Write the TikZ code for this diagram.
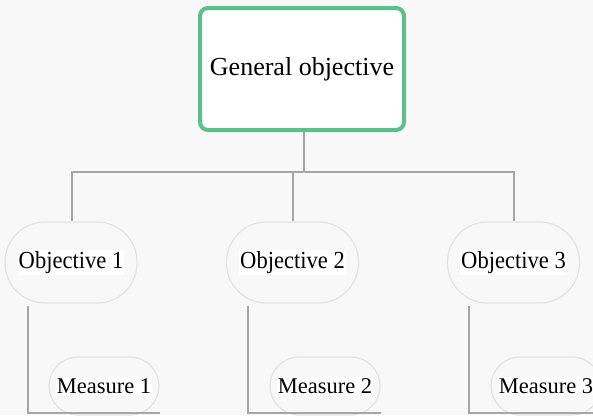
\documentclass[tikz,border=0pt]{standalone}
\usepackage{fontspec}
\setmainfont{Liberation Serif}
\newfontfamily\objfont{Liberation Serif}[FakeStretch=0.92]
\definecolor{bg}{HTML}{F8F8F8}
\definecolor{gbox}{HTML}{5CC08C}
\definecolor{conn}{HTML}{A6A6A6}
\definecolor{pill}{HTML}{E3E3E3}
\begin{document}
\begin{tikzpicture}[x=1pt,y=-1pt,
  topbox/.style={draw=gbox, line width=4pt, rounded corners=8pt, fill=white,
    minimum width=204pt, minimum height=122pt, inner sep=0pt,
    font=\fontsize{26pt}{30pt}\selectfont},
  objpill/.style={draw=pill, line width=1.2pt, fill=bg, rounded corners=40pt,
    minimum width=132pt, minimum height=81pt, inner sep=0pt,
    font=\objfont\fontsize{24.5pt}{28pt}\selectfont},
  measpill/.style={draw=pill, line width=1.2pt, fill=bg, rounded corners=29pt,
    minimum width=110pt, minimum height=58pt, inner sep=0pt,
    font=\fontsize{22.5pt}{26pt}\selectfont},
  link/.style={draw=conn, line width=2pt}]
\useasboundingbox (0,0) rectangle (593,415);
\clip (0,0) rectangle (593,415);
\fill[bg] (0,0) rectangle (593,415);
\setlength{\fboxsep}{1pt}
% top
\node[topbox] (g) at (302,69) {\raisebox{2pt}{General objective}};
% objectives
\node[objpill] (o1) at (71,262.5) {\colorbox{white}{Objective 1}};
\node[objpill] (o2) at (292.5,262.5) {\colorbox{white}{Objective 2}};
\node[objpill] (o3) at (513.5,262.5) {\colorbox{white}{Objective 3}};
% connectors top
\coordinate (bar) at (304,172);
\draw[link] (bar |- g.south) -- (bar);
\draw[link] ([xshift=0.5pt]o1.north) |- (bar) -| (o3.north);
\draw[link] (o2.north) -- (o2.north |- bar);
% measures
\node[measpill] (m1) at (104,386) {\colorbox{white}{Measure 1}};
\node[measpill] (m2) at (325,386) {\colorbox{white}{Measure 2}};
\node[measpill] (m3) at (546,386) {\colorbox{white}{Measure 3}};
% connectors objective -> measure
\draw[link] ([xshift=-43pt,yshift=-2pt]o1.south) |- ([yshift=3pt]m1.south east);
\draw[link] ([xshift=-44.5pt,yshift=-2pt]o2.south) |- ([yshift=3pt]m2.south east);
\draw[link] ([xshift=-44.5pt,yshift=-2pt]o3.south) |- ([yshift=3pt]m3.south east);
\end{tikzpicture}
\end{document}
